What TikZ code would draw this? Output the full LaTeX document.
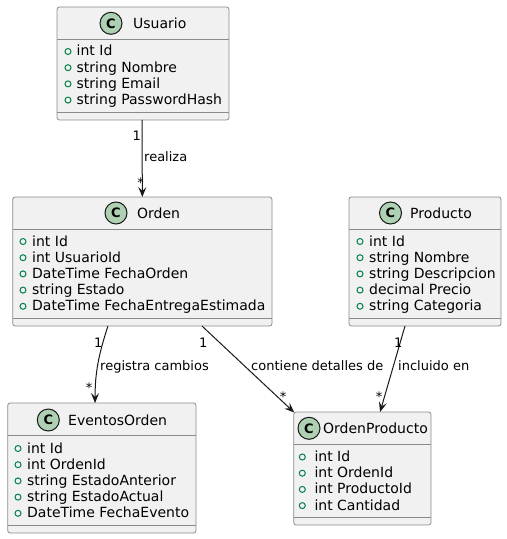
\documentclass[tikz,border=0pt]{standalone}
\usepackage{fontspec}
\setmainfont{DejaVu Sans}
\usetikzlibrary{arrows.meta,fit}

\definecolor{umlline}{HTML}{181818}
\definecolor{boxline}{HTML}{8A8A8A}
\definecolor{umlfill}{HTML}{F1F1F1}
\definecolor{badgefill}{HTML}{ADD1B2}
\definecolor{visgreen}{HTML}{038048}

\tikzset{
    classbox/.style={draw=boxline, line width=0.8bp, fill=umlfill, rounded corners=2.5bp, inner sep=0pt, outer sep=0pt},
    rule/.style={draw=boxline, line width=0.8bp},
    badge/.style={circle, draw=umlline, line width=1bp, fill=badgefill, minimum size=22bp, inner sep=0pt, font=\bfseries\fontsize{13bp}{13bp}\selectfont},
    classtitle/.style={anchor=base west, inner sep=0pt, font=\fontsize{14bp}{16bp}\selectfont},
    member/.style={anchor=base west, inner sep=0pt, font=\fontsize{14bp}{16bp}\selectfont},
    vis/.style={draw=visgreen, line width=1bp},
    assoc/.style={draw=umlline, line width=1bp, -{Stealth[length=10bp, width=8bp, inset=4bp]}},
    lbl/.style={inner sep=0pt, font=\fontsize{13bp}{15bp}\selectfont, text height=9.5bp, text depth=2.5bp},
}

\begin{document}
\begin{tikzpicture}[x=1bp, y=-1bp]
    \useasboundingbox (0,0) rectangle (507,539);
    \newcommand\classframe[3]{% {<name>}{<top left>}{<bottom right>}
        \node[classbox, fit={#2 #3}] (#1) {};
        \draw[rule] ([yshift=-32bp]#1.north west) -- ([yshift=-32bp]#1.north east);
        \draw[rule] ([yshift=8bp]#1.south west) -- ([yshift=8bp]#1.south east);
    }
    \newcommand\classhead[4]{% {<name>}{<badge at>}{<title at>}{<title>}
        \node[badge] (#1C) at #2 {C};
        \node[classtitle] (#1T) at #3 {#4};
    }
    \newcommand\members[5]{% {<name>}{<circle x>}{<text x>}{<first baseline>}{<list>}
        \foreach \m [count=\i from 0] in {#5} {
            \draw[vis] (#2,{#4-4.5+16.2*\i}) circle (3bp);
            \node[member] (#1m\i) at (#3,{#4+16.2*\i}) {\m};
        }
    }

    % classes
    \classframe{usuario}{(57,7)}{(229,120)}
    \classhead{usuario}{(111,23.3)}{(133,28.5)}{Usuario}
    \members{usuario}{68}{76.5}{56}{int Id, string Nombre, string Email, string PasswordHash}

    \classframe{orden}{(12.7,197)}{(272,326)}
    \classhead{orden}{(116,213)}{(137,218.5)}{Orden}
    \members{orden}{23}{32}{246}{int Id, int UsuarioId, DateTime FechaOrden, string Estado, DateTime FechaEntregaEstimada}

    \classframe{producto}{(349,197)}{(501,326)}
    \classhead{producto}{(390.5,213)}{(410,218.5)}{Producto}
    \members{producto}{360}{369}{246}{int Id, string Nombre, string Descripcion, decimal Precio, string Categoria}

    \classframe{eventos}{(7.7,403)}{(196,533)}
    \classhead{eventos}{(48.3,420)}{(68,425.5)}{EventosOrden}
    \members{eventos}{18}{27}{453}{int Id, int OrdenId, string EstadoAnterior, string EstadoActual, DateTime FechaEvento}

    \classframe{ordenproducto}{(293.7,412)}{(431,525)}
    \classhead{ordenproducto}{(309,428.3)}{(323,433.5)}{OrdenProducto}
    \members{ordenproducto}{302.3}{314.3}{461.5}{int Id, int OrdenId, int ProductoId, int Cantidad}

    % associations
    \draw[assoc] ([xshift=-1bp]usuario.south) -- (orden.north);
    \draw[assoc] ([xshift=-34.4bp]orden.south) to[out=-108, in=90] ([xshift=-6.8bp]eventos.north);
    \draw[assoc] ([xshift=59.6bp]orden.south) -- ([xshift=0.5bp,yshift=-0.5bp]ordenproducto.north west);
    \draw[assoc] ([xshift=-20bp]producto.south) -- ([xshift=17.7bp]ordenproducto.north);

    % labels
    \node[lbl, anchor=east] (m1a) at (141,137) {1};
    \node[lbl, anchor=west] (l1) at (144,158.5) {realiza};
    \node[lbl, anchor=east] (m1b) at (144,184) {*};

    \node[lbl, anchor=east] (m2a) at (102.5,344) {1};
    \node[lbl, anchor=west] (l2) at (100,366.5) {registra cambios};
    \node[lbl, anchor=east] (m2b) at (92.5,389) {*};

    \node[lbl, anchor=east] (m3a) at (207.5,344) {1};
    \node[lbl, anchor=west] (l3) at (251,366.5) {contiene detalles de};
    \node[lbl, anchor=east] (m3b) at (286.5,398) {*};

    \node[lbl, anchor=east] (m4a) at (402.5,344) {1};
    \node[lbl, anchor=west] (l4) at (398,366.5) {incluido en};
    \node[lbl, anchor=east] (m4b) at (382.5,398) {*};
\end{tikzpicture}
\end{document}
